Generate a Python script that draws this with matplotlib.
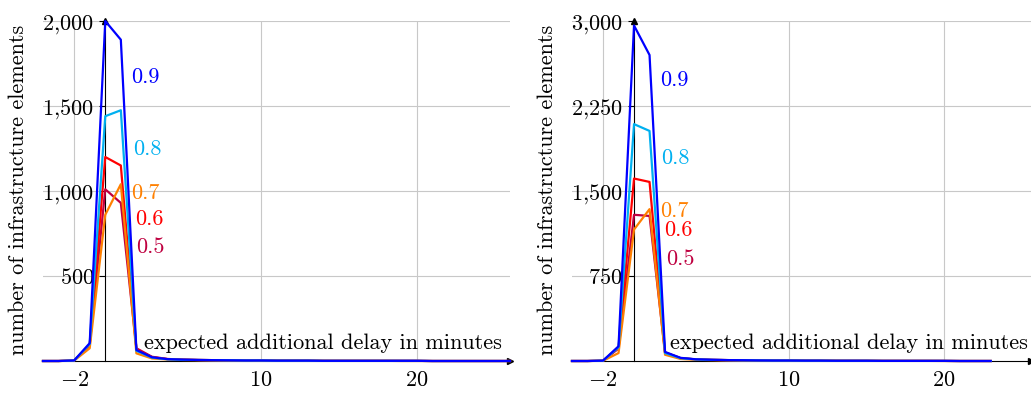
import numpy as np
import matplotlib
matplotlib.use('Agg')
import matplotlib.pyplot as plt

plt.rcParams['font.family'] = 'cmr10'
plt.rcParams['mathtext.fontset'] = 'cm'
plt.rcParams['axes.unicode_minus'] = False
plt.rcParams['font.size'] = 16

# left panel, delay -4..26
delay_left = list(range(-4, 27))
left_05 = [0, 0, 3, 95, 1010, 930, 75, 25, 12, 8, 6, 5, 4, 3, 3, 2, 2, 2, 1, 1, 1, 1, 1, 1, 1, 0, 0, 0, 0, 0, 0]
left_06 = [0, 0, 3, 95, 1200, 1150, 70, 22, 11, 8, 6, 5, 4, 3, 3, 2, 2, 2, 1, 1, 1, 1, 1, 1, 1, 0, 0, 0, 0, 0, 0]
left_07 = [0, 0, 2, 75, 860, 1040, 45, 15, 9, 6, 5, 4, 3, 3, 2, 2, 2, 1, 1, 1, 1, 1, 1, 0, 0, 0, 0, 0, 0, 0, 0]
left_08 = [0, 0, 3, 100, 1440, 1475, 60, 20, 10, 7, 6, 5, 4, 3, 3, 2, 2, 2, 1, 1, 1, 1, 1, 1, 1, 0, 0, 0, 0, 0, 0]
left_09 = [0, 0, 3, 105, 2000, 1890, 65, 22, 11, 8, 6, 5, 4, 3, 3, 2, 2, 2, 1, 1, 1, 1, 1, 1, 1, 0, 0, 0, 0, 0, 0]

# right panel, delay -4..23
delay_right = list(range(-4, 24))
right_05 = [0, 0, 3, 110, 1290, 1280, 75, 25, 14, 10, 8, 6, 5, 4, 4, 3, 3, 2, 2, 2, 1, 1, 1, 1, 1, 0, 0, 0]
right_06 = [0, 0, 3, 115, 1610, 1580, 75, 25, 14, 10, 8, 6, 5, 4, 4, 3, 3, 2, 2, 2, 1, 1, 1, 1, 1, 0, 0, 0]
right_07 = [0, 0, 2, 70, 1160, 1340, 55, 18, 11, 8, 6, 5, 4, 3, 3, 2, 2, 2, 1, 1, 1, 1, 1, 1, 0, 0, 0, 0]
right_08 = [0, 0, 3, 120, 2090, 2030, 70, 25, 14, 10, 8, 6, 5, 4, 4, 3, 3, 2, 2, 2, 1, 1, 1, 1, 1, 0, 0, 0]
right_09 = [0, 0, 3, 130, 2960, 2700, 80, 28, 15, 11, 8, 7, 5, 4, 4, 3, 3, 2, 2, 2, 1, 1, 1, 1, 1, 0, 0, 0]

levels = ['0.5', '0.6', '0.7', '0.8', '0.9']
colors = ['#bf0040', '#ff0000', '#ff8000', '#00b0f0', '#0000ff']

left_label_pos = [(2.0, 671), (1.94, 835), (1.65, 988), (1.8, 1247), (1.68, 1670)]
right_label_pos = [(2.04, 900), (1.92, 1155), (1.66, 1323), (1.77, 1790), (1.7, 2479)]

left_yticks = [500, 1000, 1500, 2000]
right_yticks = [750, 1500, 2250, 3000]
xticks = [-2, 10, 20]
xtick_labels = ['$-2$', '$10$', '$20$']


def fmt(v):
    return '$' + '{:,}'.format(v).replace(',', '{,}') + '$'


def panel(ax, x, series, label_pos, yticks, ymax, xmax, xlab_x, xlab_y):
    for ys, c, lev, (tx, ty) in zip(series, colors, levels, label_pos):
        ax.plot(x, ys, color=c, lw=1.6, clip_on=False, zorder=3)
        ax.text(tx, ty, lev, color=c, ha='left', va='center', fontsize=16)
    ax.set_xlim(-4, xmax)
    ax.set_ylim(0, ymax)
    ax.set_xticks(xticks, xtick_labels)
    ax.set_yticks(yticks, [fmt(v) for v in yticks])
    ax.grid(True, color='#c8c8c8', lw=0.8)
    ax.set_axisbelow(True)
    for s in ['top', 'right']:
        ax.spines[s].set_visible(False)
    ax.spines['left'].set_position(('data', 0))
    ax.spines['left'].set_linewidth(0.8)
    ax.spines['bottom'].set_linewidth(0.8)
    ax.tick_params(axis='y', length=4, width=0.8, pad=4, labelsize=16)
    ax.tick_params(axis='x', length=0, pad=7, labelsize=16)
    ax.plot(0, 1, marker='^', color='k', ms=4, transform=ax.get_xaxis_transform(),
            clip_on=False, zorder=2)
    ax.plot(1, 0, marker='>', color='k', ms=4, transform=ax.get_yaxis_transform(),
            clip_on=False, zorder=2)
    ax.text(xlab_x, xlab_y, 'expected additional delay in minutes',
            ha='right', va='center', fontsize=16)
    ax.text(-0.054, 0.503, 'number of infrastructure elements', rotation=90,
            ha='center', va='center', transform=ax.transAxes, fontsize=16)


fig = plt.figure(figsize=(10.31, 3.94), dpi=100)
ax1 = fig.add_axes([43 / 1031, 33 / 394, 467 / 1031, 340 / 394])
ax2 = fig.add_axes([572 / 1031, 33 / 394, 459 / 1031, 340 / 394])

panel(ax1, delay_left, [left_05, left_06, left_07, left_08, left_09],
      left_label_pos, left_yticks, 2000, 26, 25.5, 106)
panel(ax2, delay_right, [right_05, right_06, right_07, right_08, right_09],
      right_label_pos, right_yticks, 3000, 25.6, 25.4, 159)

fig.savefig('out.png', dpi=100)
